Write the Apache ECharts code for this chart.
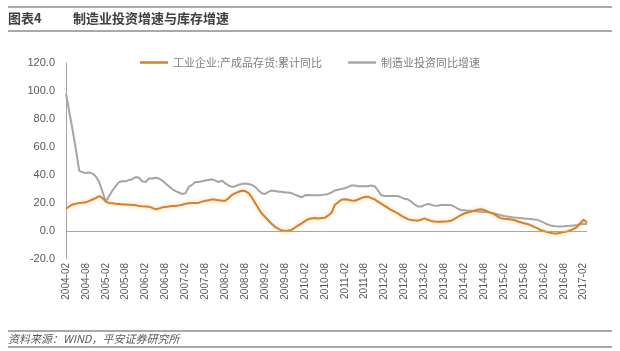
<!DOCTYPE html>
<html>
<head>
<meta charset="utf-8">
<script src="https://cdn.jsdelivr.net/npm/echarts@6/dist/echarts.min.js"></script>
<style>
html,body{margin:0;padding:0;background:#fff;}
#c{width:620px;height:351px;}
</style>
</head>
<body>
<div id="c"></div>
<script>
// monthly categories 2004-02 .. 2017-03
const categories = [];
(function(){
  let y = 2004, m = 2;
  while (y < 2017 || (y === 2017 && m <= 3)) {
    categories.push(y + '-' + (m < 10 ? '0' + m : m));
    m++; if (m > 12) { m = 1; y++; }
  }
})();

const seriesNames = ['工业企业:产成品存货:累计同比', '制造业投资同比增速'];

const inventoryYoY = [
16,17.5,19,19.5,20,20.2,20.5,21.5,22.5,23.5,25,23.5,
21,20,19.8,19.5,19.3,19,19,18.8,18.6,18.5,17.8,17.6,
17.5,17.4,16.5,15.5,16,16.9,17.2,17.5,17.8,17.9,18.3,18.8,
19.5,19.8,20,20,20.2,21,21.6,22,22.6,22.3,22,21.6,
21.6,23.5,25.7,27,28,28.8,28.5,27,24,20,16,12.5,
10,7.5,5,3,1.5,0.5,0,0.3,0.8,2.5,4,5.5,
7,8.5,9,9.2,9,9.3,9.5,11,13,18.6,20.5,22.3,
22.6,22.3,21.8,21.6,22.5,23.5,24.3,24.5,23.5,22.6,21,19.5,
18,16.5,15,13.8,12.6,11,9.8,8.5,7.9,7.6,7.4,8,
9,8,7.2,6.8,6.6,6.6,6.8,7,7.4,8.5,10,11.4,
12.5,13.2,13.8,14.5,15.2,15.5,15,14,13,12,10.5,9.2,
8.8,8.5,8.2,7.9,7,6.2,5.5,5,4.2,3,2,0.7,
0,-0.8,-1.3,-1.7,-1.8,-1.3,-0.8,-0.3,0.5,1.5,3,5.5,
8,6
];

const investmentYoY = [
98,85,72,58,43,42,41.5,41.8,41,39,35,28,
21,25,29,32,35,35.5,35.5,36.5,37,38.5,38,35.5,
35,37.5,37.5,38,37.5,36,34,32,30,28.5,27.5,26.5,
27,31.5,33,35,35,35.5,36,36.5,37,36,35,36,
34,32.5,31.5,32,33,33.5,34,33.5,33,31.5,29,27,
26.5,28,29,28.5,28,28,27.5,27.5,27,26,25,24,
25.5,25.7,25.5,25.5,25.5,25.7,26,26.5,27.5,29,29.5,30,
30.5,31.5,32.5,32.5,32,32,32,32,32.5,32,29,25.5,
25,25,25,25,25,24,23,22.6,21,19,17.5,17.5,
18.5,19.3,19,18,18,18.5,18.5,18.5,18.5,17.5,16,15,
14.8,14.5,14.5,14.2,14,13.8,13.5,13.5,13,12.6,12,11.2,
10.7,10.3,10,9.7,9.5,9.2,9,8.8,8.5,8.2,8,7,
6,4.8,4,3.6,3.3,3.3,3.4,3.6,3.7,4,4.3,4.8,
5,5
];

const yTicks = { min: -20, max: 120, interval: 20 };

const chart = echarts.init(document.getElementById('c'), null, { renderer: 'canvas' });
const cjk = '"Noto Sans CJK SC", "Noto Sans", sans-serif';

chart.setOption({
  backgroundColor: '#fff',
  animation: false,
  textStyle: { fontFamily: cjk },
  graphic: [
    { type: 'line', shape: { x1: 8, y1: 7, x2: 612, y2: 7 }, style: { stroke: '#8c8c8c', lineWidth: 1.5 } },
    { type: 'line', shape: { x1: 8, y1: 31, x2: 612, y2: 31 }, style: { stroke: '#8c8c8c', lineWidth: 1.5 } },
    { type: 'text', left: 8, top: 12, style: { text: '图表4', font: 'bold 13px ' + cjk, fill: '#404040' } },
    { type: 'text', left: 73, top: 12, style: { text: '制造业投资增速与库存增速', font: 'bold 13px ' + cjk, fill: '#404040' } },
    { type: 'line', shape: { x1: 8, y1: 331, x2: 612, y2: 331 }, style: { stroke: '#8c8c8c', lineWidth: 1.5 } },
    { type: 'line', shape: { x1: 8, y1: 347, x2: 612, y2: 347 }, style: { stroke: '#8c8c8c', lineWidth: 1.5 } },
    { type: 'text', left: 8, top: 333, style: { text: '资料来源：WIND，平安证券研究所', font: 'italic 11px ' + cjk, fill: '#595959' } }
  ],
  legend: {
    left: 135, top: 52,
    itemWidth: 28, itemHeight: 10, itemGap: 26,
    icon: 'rect',
    textStyle: { fontSize: 11, color: '#7f7f7f', fontFamily: cjk },
    data: [
      { name: seriesNames[0], icon: 'path://M0,4L28,4L28,6.5L0,6.5Z' },
      { name: seriesNames[1], icon: 'path://M0,4L28,4L28,6.5L0,6.5Z' }
    ]
  },
  grid: { left: 66, right: 33, top: 63, bottom: 92, containLabel: false },
  xAxis: {
    type: 'category',
    data: categories,
    boundaryGap: false,
    axisLine: { show: false },
    axisTick: { show: false },
    axisLabel: {
      interval: 5, rotate: 90, fontSize: 10, color: '#595959', margin: 4,
      fontFamily: '"Liberation Sans", "DejaVu Sans", sans-serif'
    },
    splitLine: { show: false }
  },
  yAxis: {
    type: 'value',
    min: yTicks.min, max: yTicks.max, interval: yTicks.interval,
    axisLine: { show: true, lineStyle: { color: '#a6a6a6', width: 1 } },
    axisTick: { show: false },
    splitLine: { show: false },
    axisLabel: {
      formatter: v => v.toFixed(1), fontSize: 11, color: '#595959', margin: 11,
      fontFamily: '"Liberation Sans", "DejaVu Sans", sans-serif'
    }
  },
  series: [
    {
      name: seriesNames[0], type: 'line', data: inventoryYoY,
      symbol: 'none', z: 3,
      itemStyle: { color: '#d0832f' },
      lineStyle: { color: '#d0832f', width: 2, shadowColor: 'rgba(245,180,100,0.6)', shadowBlur: 4 },
      markLine: {
        silent: true, symbol: 'none', label: { show: false },
        lineStyle: { color: '#a6a6a6', width: 1, type: 'solid' },
        data: [{ yAxis: 0 }]
      }
    },
    {
      name: seriesNames[1], type: 'line', data: investmentYoY,
      symbol: 'none', z: 2,
      itemStyle: { color: '#a5a5a5' },
      lineStyle: { color: '#a5a5a5', width: 2 }
    }
  ]
});
</script>
</body>
</html>
